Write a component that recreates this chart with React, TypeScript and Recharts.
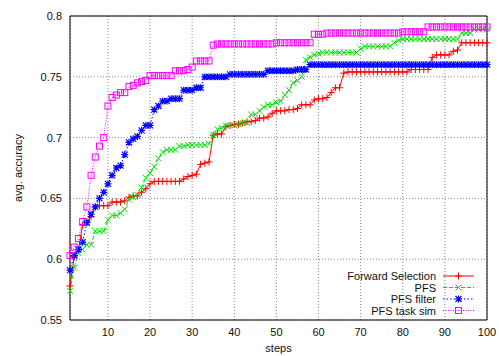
// Feature selection accuracy curves: avg. accuracy per step for four methods.

import {
  LineChart,
  Line,
  XAxis,
  YAxis,
  CartesianGrid,
  ReferenceArea,
} from 'recharts'

const steps = Array.from({ length: 100 }, (_, i) => i + 1)

const forwardSelection = [
  0.578, 0.602, 0.608, 0.628, 0.631, 0.635, 0.643, 0.644, 0.644, 0.644,
  0.647, 0.647, 0.647, 0.648, 0.651, 0.652, 0.652, 0.655, 0.658, 0.662,
  0.664, 0.664, 0.664, 0.664, 0.664, 0.664, 0.664, 0.666, 0.668, 0.669,
  0.670, 0.678, 0.679, 0.680, 0.702, 0.703, 0.703, 0.709, 0.710, 0.711,
  0.711, 0.712, 0.713, 0.713, 0.714, 0.716, 0.716, 0.717, 0.720, 0.722,
  0.722, 0.722, 0.723, 0.723, 0.724, 0.727, 0.727, 0.727, 0.731, 0.732,
  0.732, 0.733, 0.737, 0.741, 0.741, 0.753, 0.754, 0.754, 0.754, 0.754,
  0.754, 0.754, 0.754, 0.754, 0.754, 0.754, 0.754, 0.754, 0.754, 0.754,
  0.754, 0.756, 0.756, 0.756, 0.756, 0.756, 0.766, 0.768, 0.768, 0.768,
  0.768, 0.771, 0.772, 0.778, 0.778, 0.778, 0.778, 0.778, 0.778, 0.778,
]

const pfs = [
  0.574, 0.593, 0.605, 0.608, 0.612, 0.612, 0.623, 0.623, 0.623, 0.632,
  0.636, 0.636, 0.638, 0.641, 0.649, 0.651, 0.653, 0.659, 0.667, 0.671,
  0.676, 0.683, 0.688, 0.690, 0.690, 0.690, 0.693, 0.693, 0.694, 0.694,
  0.694, 0.694, 0.694, 0.695, 0.702, 0.707, 0.708, 0.710, 0.710, 0.710,
  0.711, 0.712, 0.712, 0.719, 0.719, 0.722, 0.725, 0.727, 0.727, 0.729,
  0.730, 0.735, 0.739, 0.745, 0.747, 0.750, 0.764, 0.766, 0.768, 0.769,
  0.770, 0.770, 0.770, 0.770, 0.770, 0.770, 0.770, 0.770, 0.770, 0.773,
  0.775, 0.775, 0.775, 0.775, 0.775, 0.775, 0.775, 0.778, 0.780, 0.781,
  0.781, 0.781, 0.781, 0.781, 0.781, 0.781, 0.781, 0.781, 0.781, 0.781,
  0.781, 0.781, 0.781, 0.786, 0.786, 0.786, 0.789, 0.789, 0.789, 0.789,
]

const pfsFilter = [
  0.591, 0.603, 0.608, 0.614, 0.630, 0.637, 0.643, 0.650, 0.655, 0.662,
  0.669, 0.675, 0.677, 0.686, 0.696, 0.699, 0.701, 0.706, 0.710, 0.710,
  0.723, 0.726, 0.730, 0.730, 0.732, 0.732, 0.732, 0.739, 0.739, 0.739,
  0.741, 0.741, 0.750, 0.750, 0.750, 0.750, 0.750, 0.750, 0.752, 0.752,
  0.752, 0.752, 0.752, 0.752, 0.752, 0.752, 0.752, 0.755, 0.755, 0.755,
  0.755, 0.755, 0.755, 0.755, 0.756, 0.756, 0.756, 0.760, 0.760, 0.760,
  0.760, 0.760, 0.760, 0.760, 0.760, 0.760, 0.760, 0.760, 0.760, 0.760,
  0.760, 0.760, 0.760, 0.760, 0.760, 0.760, 0.760, 0.760, 0.760, 0.760,
  0.760, 0.760, 0.760, 0.760, 0.760, 0.760, 0.760, 0.760, 0.760, 0.760,
  0.760, 0.760, 0.760, 0.760, 0.760, 0.760, 0.760, 0.760, 0.760, 0.760,
]

const pfsTaskSim = [
  0.603, 0.610, 0.617, 0.631, 0.643, 0.669, 0.684, 0.693, 0.700, 0.726,
  0.733, 0.735, 0.737, 0.737, 0.742, 0.743, 0.745, 0.746, 0.747, 0.751,
  0.751, 0.751, 0.751, 0.751, 0.751, 0.755, 0.755, 0.755, 0.756, 0.758,
  0.763, 0.763, 0.763, 0.763, 0.776, 0.777, 0.777, 0.777, 0.777, 0.777,
  0.777, 0.777, 0.777, 0.777, 0.777, 0.777, 0.777, 0.777, 0.777, 0.778,
  0.778, 0.778, 0.778, 0.778, 0.778, 0.778, 0.778, 0.778, 0.785, 0.785,
  0.785, 0.786, 0.786, 0.786, 0.786, 0.786, 0.786, 0.786, 0.786, 0.786,
  0.786, 0.786, 0.786, 0.786, 0.786, 0.786, 0.786, 0.786, 0.786, 0.787,
  0.787, 0.787, 0.787, 0.787, 0.787, 0.791, 0.791, 0.791, 0.791, 0.791,
  0.791, 0.791, 0.791, 0.791, 0.791, 0.791, 0.791, 0.791, 0.791, 0.791,
]

const xTicks = [10, 20, 30, 40, 50, 60, 70, 80, 90, 100]
const yTicks = [0.55, 0.6, 0.65, 0.7, 0.75, 0.8]

const data = steps.map((step, i) => ({
  step,
  fs: forwardSelection[i],
  pfs: pfs[i],
  filter: pfsFilter[i],
  tasksim: pfsTaskSim[i],
}))

const RED = '#ff0000'
const GREEN = '#00e000'
const BLUE = '#0000ff'
const MAGENTA = '#ff00ff'
const FONT = '"Liberation Sans", Arial, sans-serif'

type MarkProps = { cx: number; cy: number; color: string }

function PlusMark({ cx, cy, color }: MarkProps) {
  return (
    <path
      d={`M${cx - 3.5},${cy}h7M${cx},${cy - 3.5}v7`}
      stroke={color}
      strokeWidth={1}
      fill="none"
    />
  )
}

function CrossMark({ cx, cy, color }: MarkProps) {
  return (
    <path
      d={`M${cx - 3},${cy - 3}l6,6M${cx - 3},${cy + 3}l6,-6`}
      stroke={color}
      strokeWidth={1}
      fill="none"
    />
  )
}

function StarMark({ cx, cy, color }: MarkProps) {
  return (
    <path
      d={`M${cx - 3.5},${cy}h7M${cx},${cy - 3.5}v7M${cx - 3},${cy - 3}l6,6M${cx - 3},${cy + 3}l6,-6`}
      stroke={color}
      strokeWidth={1.2}
      fill="none"
    />
  )
}

function SquareMark({ cx, cy, color }: MarkProps) {
  return (
    <rect
      x={cx - 3}
      y={cy - 3}
      width={6}
      height={6}
      stroke={color}
      strokeWidth={1}
      fill="none"
    />
  )
}

const series = [
  { key: 'fs', name: 'Forward Selection', color: RED, dash: undefined, Mark: PlusMark },
  { key: 'pfs', name: 'PFS', color: GREEN, dash: '4 2', Mark: CrossMark },
  { key: 'filter', name: 'PFS filter', color: BLUE, dash: '1.5 2', Mark: StarMark },
  { key: 'tasksim', name: 'PFS task sim', color: MAGENTA, dash: '1 1.5', Mark: SquareMark },
]

function LegendBox() {
  return (
    <svg
      width={499}
      height={356}
      style={{ position: 'absolute', left: 0, top: 0, pointerEvents: 'none' }}
    >
      {series.map((s, i) => {
        const y = 276 + i * 11.5
        return (
          <g key={s.key}>
            <text
              x={436}
              y={y}
              textAnchor="end"
              dominantBaseline="central"
              fontSize={11}
              fontFamily={FONT}
              fill="#111"
            >
              {s.name}
            </text>
            <line
              x1={443}
              x2={474}
              y1={y}
              y2={y}
              stroke={s.color}
              strokeWidth={1}
              strokeDasharray={s.dash}
            />
            <s.Mark cx={458.5} cy={y} color={s.color} />
          </g>
        )
      })}
    </svg>
  )
}

export default function App() {
  return (
    <div
      style={{
        position: 'absolute',
        left: 0,
        top: 0,
        width: 499,
        height: 356,
        background: '#fff',
        fontFamily: FONT,
      }}
    >
      <LineChart
        width={499}
        height={356}
        data={data}
        margin={{ top: 16, right: 12, bottom: 0, left: 0 }}
      >
        <CartesianGrid stroke="#888" strokeDasharray="1 2" />
        <XAxis
          dataKey="step"
          type="number"
          domain={[1, 100]}
          ticks={xTicks}
          height={36}
          tick={{ fontSize: 11, fill: '#111', fontFamily: FONT }}
          tickLine={false}
          axisLine={false}
          label={{
            value: 'steps',
            position: 'insideBottom',
            offset: 4,
            style: { fontSize: 11, fill: '#111', fontFamily: FONT },
          }}
        />
        <YAxis
          type="number"
          domain={[0.55, 0.8]}
          ticks={yTicks}
          width={70}
          tick={{ fontSize: 11, fill: '#111', fontFamily: FONT }}
          tickLine={false}
          axisLine={false}
          tickFormatter={(v: number) => String(+v.toFixed(2))}
          label={{
            value: 'avg. accuracy',
            angle: -90,
            position: 'insideLeft',
            offset: 18,
            style: { fontSize: 11, fill: '#111', fontFamily: FONT, textAnchor: 'middle' },
          }}
        />
        <ReferenceArea
          x1={1}
          x2={100}
          y1={0.55}
          y2={0.8}
          fill="none"
          stroke="#000"
          strokeWidth={1}
        />
        {series.map((s) => (
          <Line
            key={s.key}
            dataKey={s.key}
            name={s.name}
            type="linear"
            stroke={s.color}
            strokeWidth={1}
            strokeDasharray={s.dash}
            isAnimationActive={false}
            activeDot={false}
            dot={(p: any) => (
              <s.Mark key={`${s.key}-${p.index}`} cx={p.cx} cy={p.cy} color={s.color} />
            )}
          />
        ))}
      </LineChart>
      <LegendBox />
    </div>
  )
}
